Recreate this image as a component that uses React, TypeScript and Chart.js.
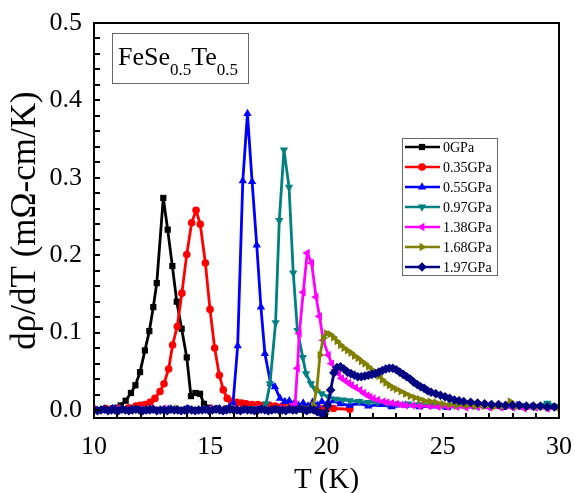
import { useEffect, useRef } from "react";
import { Chart, registerables } from "chart.js";
Chart.register(...registerables);

const seriesLabels = ["0GPa", "0.35GPa", "0.55GPa", "0.97GPa", "1.38GPa", "1.68GPa", "1.97GPa"];
const seriesColors = ["#000000", "#FF0000", "#0000FF", "#008080", "#FF00FF", "#808000", "#000080"];
const seriesPointStyles = ["rect", "circle", "triangle", "triangle", "triangle", "triangle", "rectRot"];
const seriesRotations = [0, 0, 0, 180, -90, 90, 0];
const seriesRadii = [4.4, 3.8, 4.8, 4.8, 4.8, 4.8, 4.8];

const xTickValues = [10, 15, 20, 25, 30];
const yTickValues = [0, 0.1, 0.2, 0.3, 0.4, 0.5];

// 0 GPa
const tBlack = [10.0, 10.4, 10.8, 11.0, 11.15, 11.36, 11.59, 11.78, 11.98, 12.19, 12.38, 12.55, 12.7, 12.98, 13.17, 13.37, 13.56, 13.77, 13.99, 14.17, 14.36, 14.56, 14.73, 14.95, 15.3, 15.7, 16.1, 16.5, 17.0, 17.5, 18.0, 18.5, 19.0, 19.5, 20.0];
const vBlack = [0.001, 0.001, 0.002, 0.003, 0.006, 0.012, 0.022, 0.032, 0.049, 0.077, 0.102, 0.133, 0.164, 0.274, 0.233, 0.186, 0.140, 0.105, 0.068, 0.018, 0.022, 0.021, 0.008, 0.003, 0.002, 0.002, 0.001, 0.002, 0.001, 0.001, 0.002, 0.001, 0.001, 0.002, 0.001];

// 0.35 GPa
const tRed = [10.0, 10.5, 11.0, 11.5, 11.8, 11.98, 12.19, 12.41, 12.62, 12.84, 13.01, 13.21, 13.38, 13.58, 13.78, 13.99, 14.2, 14.39, 14.57, 14.79, 14.99, 15.19, 15.39, 15.56, 15.73, 15.92, 16.14, 16.35, 16.55, 16.8, 17.05, 17.3, 17.55, 17.8, 18.1, 18.4, 18.7, 19.0, 19.4, 19.8, 20.3, 21.0];
const vRed = [0.001, 0.002, 0.001, 0.003, 0.005, 0.006, 0.007, 0.010, 0.015, 0.024, 0.034, 0.053, 0.084, 0.108, 0.151, 0.201, 0.242, 0.258, 0.240, 0.190, 0.130, 0.080, 0.045, 0.026, 0.015, 0.011, 0.010, 0.009, 0.008, 0.007, 0.007, 0.006, 0.006, 0.005, 0.005, 0.004, 0.004, 0.003, 0.003, 0.002, 0.002, 0.001];

// 0.55 GPa
const tBlue = [10.0, 10.8, 11.6, 12.4, 13.2, 14.0, 14.8, 15.4, 15.8, 15.98, 16.18, 16.4, 16.6, 16.8, 17.0, 17.18, 17.35, 17.6, 17.78, 18.0, 18.21, 18.4, 18.6, 18.8, 19.0, 19.2, 19.4, 19.6, 19.8, 20.0, 20.3, 20.6, 21.0, 21.4, 21.8, 22.3, 22.8, 23.4, 24.0, 24.6, 25.2, 25.8, 26.4, 27.0, 27.6, 28.2, 28.8, 29.4, 30.0];
const vBlue = [0.001, 0.002, 0.001, 0.002, 0.001, 0.002, 0.001, 0.002, 0.003, 0.009, 0.083, 0.296, 0.383, 0.295, 0.213, 0.133, 0.073, 0.034, 0.030, 0.015, 0.011, 0.012, 0.008, 0.006, 0.009, 0.005, 0.010, 0.006, 0.011, 0.007, 0.012, 0.008, 0.006, 0.009, 0.005, 0.007, 0.004, 0.006, 0.004, 0.005, 0.003, 0.006, 0.004, 0.005, 0.003, 0.006, 0.004, 0.005, 0.004];

// 0.97 GPa
const tTeal = [10.0, 11.0, 12.0, 13.0, 14.0, 15.0, 16.0, 16.8, 17.2, 17.4, 17.57, 17.81, 17.97, 18.17, 18.39, 18.57, 18.75, 18.98, 19.12, 19.33, 19.51, 19.79, 20.08, 20.4, 20.7, 21.0, 21.4, 21.8, 22.2, 22.6, 23.0, 23.5, 24.0, 24.5, 25.0, 25.5, 26.0, 26.5, 27.0, 27.5, 28.0, 28.5, 29.0, 29.5, 30.0];
const vTeal = [0.002, 0.001, 0.002, 0.001, 0.002, 0.001, 0.002, 0.002, 0.002, 0.008, 0.034, 0.113, 0.245, 0.336, 0.288, 0.177, 0.103, 0.068, 0.047, 0.034, 0.027, 0.021, 0.017, 0.014, 0.013, 0.012, 0.011, 0.010, 0.010, 0.009, 0.008, 0.008, 0.007, 0.007, 0.006, 0.006, 0.006, 0.005, 0.005, 0.005, 0.005, 0.006, 0.005, 0.009, 0.005];

// 1.38 GPa
const tPink = [10.0, 11.0, 12.0, 13.0, 14.0, 15.0, 16.0, 17.0, 18.0, 18.4, 18.65, 18.75, 18.83, 19.0, 19.17, 19.36, 19.55, 19.7, 19.86, 20.08, 20.22, 20.37, 20.52, 20.65, 20.8, 20.95, 21.08, 21.25, 21.44, 21.6, 21.75, 21.87, 22.01, 22.2, 22.44, 22.6, 22.8, 23.0, 23.2, 23.4, 23.7, 24.0, 24.4, 24.8, 25.2, 25.6, 26.0, 26.5, 27.0, 27.5, 28.0, 28.5, 29.0, 29.5, 30.0];
const vPink = [0.001, 0.002, 0.001, 0.002, 0.001, 0.002, 0.001, 0.002, 0.002, 0.003, 0.008, 0.054, 0.099, 0.152, 0.203, 0.190, 0.146, 0.121, 0.090, 0.071, 0.060, 0.052, 0.047, 0.041, 0.038, 0.035, 0.032, 0.029, 0.026, 0.022, 0.019, 0.017, 0.015, 0.013, 0.011, 0.010, 0.009, 0.008, 0.007, 0.006, 0.006, 0.005, 0.005, 0.004, 0.004, 0.004, 0.003, 0.004, 0.003, 0.003, 0.003, 0.002, 0.003, 0.002, 0.002];

// 1.68 GPa
const tOlive = [10.0, 11.2, 12.4, 13.6, 14.8, 16.0, 17.2, 18.4, 19.0, 19.43, 19.58, 19.72, 19.86, 20.0, 20.15, 20.3, 20.45, 20.6, 20.75, 20.9, 21.05, 21.2, 21.35, 21.5, 21.65, 21.8, 21.95, 22.1, 22.25, 22.4, 22.55, 22.7, 22.85, 23.0, 23.2, 23.4, 23.6, 23.8, 24.0, 24.2, 24.45, 24.7, 25.0, 25.3, 25.6, 26.0, 26.4, 26.8, 27.2, 27.6, 27.9, 28.2, 28.6, 29.0, 29.5, 30.0];
const vOlive = [0.001, 0.002, 0.001, 0.002, 0.001, 0.002, 0.001, 0.002, 0.002, 0.006, 0.026, 0.071, 0.093, 0.099, 0.098, 0.094, 0.089, 0.084, 0.080, 0.077, 0.074, 0.070, 0.067, 0.063, 0.060, 0.056, 0.052, 0.048, 0.044, 0.039, 0.035, 0.032, 0.029, 0.027, 0.024, 0.021, 0.018, 0.016, 0.014, 0.012, 0.011, 0.010, 0.008, 0.007, 0.006, 0.006, 0.005, 0.005, 0.004, 0.005, 0.011, 0.005, 0.004, 0.004, 0.003, 0.003];

// 1.97 GPa
const tNavy = [10.0, 10.15, 10.3, 10.45, 10.6, 10.75, 10.9, 11.05, 11.2, 11.35, 11.5, 11.65, 11.8, 11.95, 12.1, 12.25, 12.4, 12.55, 12.7, 12.85, 13.0, 13.15, 13.3, 13.45, 13.6, 13.75, 13.9, 14.05, 14.2, 14.35, 14.5, 14.65, 14.8, 14.95, 15.1, 15.25, 15.4, 15.55, 15.7, 15.85, 16.0, 16.15, 16.3, 16.45, 16.6, 16.75, 16.9, 17.05, 17.2, 17.35, 17.5, 17.65, 17.8, 17.95, 18.1, 18.25, 18.4, 18.55, 18.7, 18.85, 19.0, 19.15, 19.3, 19.45, 19.6, 19.75, 19.9, 20.05, 20.18, 20.32, 20.45, 20.6, 20.75, 20.9, 21.05, 21.2, 21.35, 21.5, 21.65, 21.8, 21.95, 22.1, 22.25, 22.4, 22.55, 22.7, 22.85, 23.0, 23.15, 23.3, 23.45, 23.6, 23.75, 23.9, 24.05, 24.2, 24.35, 24.5, 24.7, 24.9, 25.1, 25.3, 25.5, 25.7, 25.9, 26.2, 26.5, 26.8, 27.1, 27.4, 27.7, 28.0, 28.3, 28.6, 28.9, 29.2, 29.5, 29.8];
const vNavy = [0.000, -0.001, 0.000, 0.001, -0.001, 0.000, 0.000, -0.001, 0.001, 0.000, -0.001, 0.000, 0.001, 0.000, -0.001, 0.000, 0.000, 0.001, -0.001, 0.000, 0.000, -0.001, 0.001, 0.000, 0.000, -0.001, 0.000, 0.001, 0.000, -0.001, 0.000, 0.000, 0.001, -0.001, 0.000, 0.001, 0.000, -0.001, 0.000, 0.001, 0.000, 0.000, -0.001, 0.001, 0.000, 0.000, -0.001, 0.000, 0.001, 0.000, -0.001, 0.000, 0.001, 0.000, 0.000, -0.001, 0.001, 0.000, 0.000, 0.002, 0.000, -0.001, 0.001, 0.000, -0.002, -0.004, -0.005, 0.006, 0.026, 0.048, 0.055, 0.056, 0.053, 0.049, 0.047, 0.045, 0.043, 0.043, 0.044, 0.045, 0.046, 0.047, 0.049, 0.051, 0.053, 0.054, 0.054, 0.052, 0.049, 0.046, 0.043, 0.040, 0.036, 0.033, 0.030, 0.028, 0.025, 0.023, 0.021, 0.019, 0.017, 0.015, 0.013, 0.012, 0.011, 0.010, 0.009, 0.008, 0.007, 0.007, 0.006, 0.006, 0.006, 0.005, 0.005, 0.005, 0.004, 0.004];

const seriesT = [tBlack, tRed, tBlue, tTeal, tPink, tOlive, tNavy];
const seriesV = [vBlack, vRed, vBlue, vTeal, vPink, vOlive, vNavy];

const SERIF = "'Liberation Serif', 'Times New Roman', serif";

function drawMarker(ctx: CanvasRenderingContext2D, style: string, r: number, rot: number, x: number, y: number) {
  ctx.save();
  ctx.translate(x, y);
  ctx.rotate((rot * Math.PI) / 180);
  ctx.beginPath();
  if (style === "rect") {
    const s = r * Math.SQRT1_2;
    ctx.rect(-s, -s, 2 * s, 2 * s);
  } else if (style === "circle") {
    ctx.arc(0, 0, r, 0, Math.PI * 2);
  } else if (style === "triangle") {
    ctx.moveTo(0, -r);
    ctx.lineTo(r * 0.866, r * 0.5);
    ctx.lineTo(-r * 0.866, r * 0.5);
    ctx.closePath();
  } else if (style === "rectRot") {
    ctx.moveTo(0, -r);
    ctx.lineTo(r, 0);
    ctx.lineTo(0, r);
    ctx.lineTo(-r, 0);
    ctx.closePath();
  }
  ctx.fill();
  ctx.restore();
}

const framePlugin = {
  id: "frameAndDecor",
  afterDatasetsDraw(chart: any) {
    const { ctx, chartArea, scales } = chart;
    const xs = scales.x;
    const ys = scales.y;
    ctx.save();
    ctx.strokeStyle = "#000";
    ctx.lineWidth = 2;
    ctx.beginPath();
    for (let v = 10; v <= 30; v += 1) {
      const px = Math.round(xs.getPixelForValue(v));
      ctx.moveTo(px, chartArea.bottom);
      ctx.lineTo(px, chartArea.bottom - 5);
    }
    for (let i = 0; i <= 25; i++) {
      const py = Math.round(ys.getPixelForValue(i * 0.02));
      ctx.moveTo(chartArea.left, py);
      ctx.lineTo(chartArea.left + 6, py);
    }
    ctx.stroke();
    ctx.lineWidth = 2;
    ctx.strokeRect(chartArea.left, chartArea.top, chartArea.right - chartArea.left, chartArea.bottom - chartArea.top);

    // annotation box
    ctx.lineWidth = 1;
    ctx.strokeStyle = "#666";
    ctx.strokeRect(112.5, 33.5, 136, 50);
    ctx.fillStyle = "#000";
    ctx.textBaseline = "alphabetic";
    ctx.textAlign = "left";
    let x = 118;
    const parts: [string, number, number][] = [["FeSe", 26, 65], ["0.5", 17, 75], ["Te", 26, 65], ["0.5", 17, 75]];
    for (const [txt, size, base] of parts) {
      ctx.font = `${size}px ${SERIF}`;
      ctx.fillText(txt, x, base);
      x += ctx.measureText(txt).width;
    }

    // legend
    ctx.strokeStyle = "#666";
    ctx.lineWidth = 1;
    ctx.strokeRect(402.5, 138.5, 95, 137);
    ctx.font = `14px ${SERIF}`;
    ctx.textBaseline = "middle";
    chart.data.datasets.forEach((ds: any, i: number) => {
      const y = 147 + i * 20;
      ctx.strokeStyle = ds.borderColor;
      ctx.lineWidth = 2.5;
      ctx.beginPath();
      ctx.moveTo(405, y);
      ctx.lineTo(440, y);
      ctx.stroke();
      ctx.fillStyle = ds.borderColor;
      drawMarker(ctx, ds.pointStyle, ds.pointRadius, ds.pointRotation, 422, y);
      ctx.fillStyle = "#000";
      ctx.fillText(ds.label, 443, y + 1);
    });
    ctx.restore();
  },
};

export default function App() {
  const ref = useRef<HTMLCanvasElement | null>(null);
  useEffect(() => {
    if (!ref.current) return;
    const datasets = seriesLabels.map((label, i) => ({
      label,
      data: seriesT[i].map((t, j) => ({ x: t, y: seriesV[i][j] })),
      borderColor: seriesColors[i],
      backgroundColor: seriesColors[i],
      borderWidth: 2.8,
      borderJoinStyle: "round" as const,
      pointStyle: seriesPointStyles[i],
      pointRotation: seriesRotations[i],
      pointRadius: seriesRadii[i],
      pointBorderWidth: 0,
      pointHoverRadius: seriesRadii[i],
      tension: 0,
      order: seriesLabels.length - 1 - i,
    }));
    const chart = new Chart(ref.current, {
      type: "line",
      data: { datasets },
      options: {
        responsive: false,
        animation: false,
        events: [],
        layout: { padding: { top: 23, right: 16, left: 0, bottom: 0 } },
        plugins: { legend: { display: false }, tooltip: { enabled: false } },
        scales: {
          x: {
            type: "linear",
            min: 10,
            max: 30,
            afterFit: (s: any) => { s.height = 75; s.paddingLeft = 0; s.paddingRight = 0; },
            afterBuildTicks: (s: any) => { s.ticks = xTickValues.map((v) => ({ value: v })); },
            grid: { display: false, drawTicks: false },
            border: { display: false },
            ticks: { color: "#000", font: { family: SERIF, size: 26 }, padding: 14, maxRotation: 0, autoSkip: false },
            title: { display: true, text: "T (K)", color: "#000", font: { family: SERIF, size: 29, lineHeight: 1 }, padding: { top: 0, bottom: -2 } },
          },
          y: {
            type: "linear",
            min: -0.0103,
            max: 0.5,
            afterFit: (s: any) => { s.width = 94; s.paddingTop = 0; s.paddingBottom = 0; },
            afterBuildTicks: (s: any) => { s.ticks = yTickValues.map((v) => ({ value: v })); },
            grid: { display: false, drawTicks: false },
            border: { display: false },
            ticks: { color: "#000", font: { family: SERIF, size: 26 }, padding: 12, callback: (v: any) => Number(v).toFixed(1) },
            title: { display: true, text: "dρ/dT (mΩ-cm/K)", color: "#000", font: { family: SERIF, size: 35, lineHeight: 1 }, padding: { top: 8, bottom: 0 } },
          },
        },
      },
      plugins: [framePlugin],
    });
    return () => chart.destroy();
  }, []);
  return (
    <div style={{ position: "fixed", left: 0, top: 0, width: 575, height: 493, background: "#fff" }}>
      <canvas ref={ref} width={575} height={493} style={{ width: 575, height: 493 }} />
    </div>
  );
}
